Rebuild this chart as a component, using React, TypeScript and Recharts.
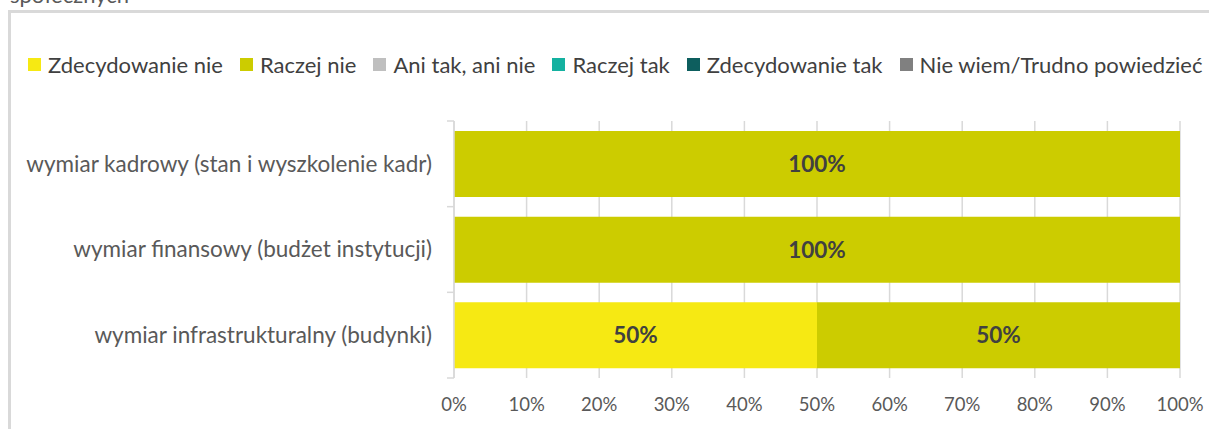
import { BarChart, Bar, XAxis, YAxis, CartesianGrid, Legend, LabelList } from "recharts";

// kategorie od góry do dołu
const categories = [
  "wymiar kadrowy (stan i wyszkolenie kadr)",
  "wymiar finansowy (budżet instytucji)",
  "wymiar infrastrukturalny (budynki)",
];

const zdecydowanieNie = [0, 0, 50];
const raczejNie = [100, 100, 50];
const aniTakAniNie = [0, 0, 0];
const raczejTak = [0, 0, 0];
const zdecydowanieTak = [0, 0, 0];
const nieWiem = [0, 0, 0];

const xTicks = [0, 10, 20, 30, 40, 50, 60, 70, 80, 90, 100];

const series = [
  { key: "zn", name: "Zdecydowanie nie", values: zdecydowanieNie, color: "#F6E913" },
  { key: "rn", name: "Raczej nie", values: raczejNie, color: "#CCCC00" },
  { key: "at", name: "Ani tak, ani nie", values: aniTakAniNie, color: "#BFBFBF" },
  { key: "rt", name: "Raczej tak", values: raczejTak, color: "#14B1A0" },
  { key: "zt", name: "Zdecydowanie tak", values: zdecydowanieTak, color: "#0D5E5E" },
  { key: "nw", name: "Nie wiem/Trudno powiedzieć", values: nieWiem, color: "#808080" },
];

const data = categories.map((name, i) => {
  const row: any = { name };
  series.forEach((s) => (row[s.key] = s.values[i]));
  return row;
});

const FONT = "Lato, 'Open Sans', sans-serif";

const CustomLegend = () => (
  <div style={{ display: "flex", alignItems: "center", whiteSpace: "nowrap", fontFamily: FONT, fontSize: 22, color: "#404040" }}>
    {series.map((s) => (
      <div key={s.key} style={{ display: "flex", alignItems: "center", marginRight: 17 }}>
        <span style={{ width: 13, height: 13, background: s.color, display: "inline-block", marginRight: 7 }} />
        <span>{s.name}</span>
      </div>
    ))}
  </div>
);

// tick kategorii na granicach pasm, jak w Excelu
const CategoryTick = (props: any) => {
  const { x, y, payload, index } = props;
  const half = payload.offset || 43;
  return (
    <g>
      <line x1={x + 15} x2={x + 22} y1={y - half} y2={y - half} stroke="#D9D9D9" strokeWidth={1.5} />
      {index === categories.length - 1 && (
        <line x1={x + 15} x2={x + 22} y1={y + half} y2={y + half} stroke="#D9D9D9" strokeWidth={1.5} />
      )}
      <text x={x} y={y} dy="0.35em" textAnchor="end" fill="#595959" fontSize={22.5} fontFamily={FONT}>
        {payload.value}
      </text>
    </g>
  );
};

const labelFmt = (v: any) => (v > 0 ? `${v}%` : "");

export default function App() {
  return (
    <div style={{ position: "absolute", left: 0, top: 0, width: 1209, height: 429, overflow: "hidden", background: "#fff" }}>
      <div style={{ position: "absolute", left: 10, top: -19, fontFamily: FONT, fontSize: 22, color: "#595959", whiteSpace: "nowrap" }}>
        społecznych
      </div>
      <div style={{ position: "absolute", left: 8, top: 10, width: 1400, height: 600, borderLeft: "3px solid #D9D9D9", borderTop: "3px solid #D9D9D9" }} />
      <div style={{ position: "absolute", left: 0, top: 0 }}>
        <BarChart
          width={1209}
          height={429}
          data={data}
          layout="vertical"
          margin={{ top: 121, right: 29, bottom: 21, left: 0 }}
        >
          <CartesianGrid horizontal={false} stroke="#D9D9D9" strokeWidth={1.5} />
          <XAxis
            type="number"
            domain={[0, 100]}
            ticks={xTicks}
            tickFormatter={(v) => `${v}%`}
            axisLine={false}
            tickLine={false}
            tickSize={0}
            tickMargin={20}
            tick={{ fill: "#595959", fontSize: 18.5, fontFamily: FONT }}
            interval={0}
          />
          <YAxis
            type="category"
            dataKey="name"
            width={454}
            axisLine={{ stroke: "#D9D9D9", strokeWidth: 1.5 }}
            tickLine={false}
            tickSize={0}
            tickMargin={22}
            tick={<CategoryTick />}
            interval={0}
          />
          <Legend
            verticalAlign="top"
            align="left"
            content={<CustomLegend />}
            wrapperStyle={{ top: 51, left: 28, width: 1400, height: 0, overflow: "visible" }}
          />
          {series.map((s) => (
            <Bar key={s.key} dataKey={s.key} name={s.name} stackId="a" fill={s.color} barSize={66} isAnimationActive={false}>
              <LabelList dataKey={s.key} position="center" formatter={labelFmt} fill="#404040" fontSize={22.5} fontWeight="bold" fontFamily={FONT} />
            </Bar>
          ))}
        </BarChart>
      </div>
    </div>
  );
}
